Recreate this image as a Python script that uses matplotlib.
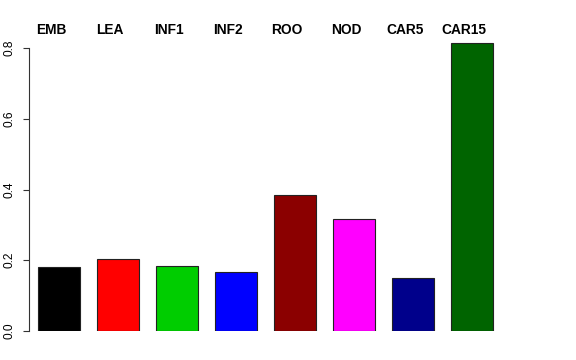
import matplotlib
matplotlib.use("Agg")
import matplotlib.pyplot as plt
from matplotlib.transforms import blended_transform_factory

# data
tissues = ["EMB", "LEA", "INF1", "INF2", "ROO", "NOD", "CAR5", "CAR15"]
values = [0.180, 0.2035, 0.1845, 0.166, 0.385, 0.3175, 0.1505, 0.815]
colors = ["#000000", "#FF0000", "#00CD00", "#0000FF",
          "#8B0000", "#FF00FF", "#00008B", "#006400"]
yticks = [0.0, 0.2, 0.4, 0.6, 0.8]

plt.rcParams['font.family'] = ['Liberation Sans', 'DejaVu Sans']

W, H = 576, 360
fig = plt.figure(figsize=(W / 100, H / 100), dpi=100)

# plot region in pixels (R-like margins)
px_left, px_right = 28.5, 560
px_bottom, px_top = 331, 40
pitch = 59.0          # pixels per bar slot
unit = 353.75         # pixels per 1.0 on y

ax = fig.add_axes([px_left / W, (H - px_bottom) / H,
                   (px_right - px_left) / W, (px_bottom - px_top) / H])

xs = list(range(len(tissues)))
ax.bar(xs, values, width=42 / pitch, color=colors,
       edgecolor="#222222", linewidth=0.8)

xmin = -(59 - px_left) / pitch
ax.set_xlim(xmin, xmin + (px_right - px_left) / pitch)
ax.set_ylim(0, (px_bottom - px_top) / unit)

for s in ["top", "right", "bottom"]:
    ax.spines[s].set_visible(False)
ax.spines["left"].set_bounds(0, 0.8)
ax.spines["left"].set_linewidth(0.8)
ax.spines["left"].set_color("#333333")
ax.set_xticks([])
ax.set_yticks(yticks)
ax.set_yticklabels([f"{t:.1f}" for t in yticks], rotation=90, va="center",
                   fontsize=8.6)
ax.tick_params(axis="y", length=4.3, width=0.8, pad=5, color="#333333")

# bold labels above the plot, slightly left of each bar centre
tr = blended_transform_factory(ax.transData, fig.transFigure)
for x, name in zip(xs, tissues):
    ax.text(x - 8 / pitch, 1 - 29.7 / H, name, transform=tr,
            ha="center", va="center", fontsize=9.9, fontweight="bold")

fig.savefig("out.png", dpi=100)
